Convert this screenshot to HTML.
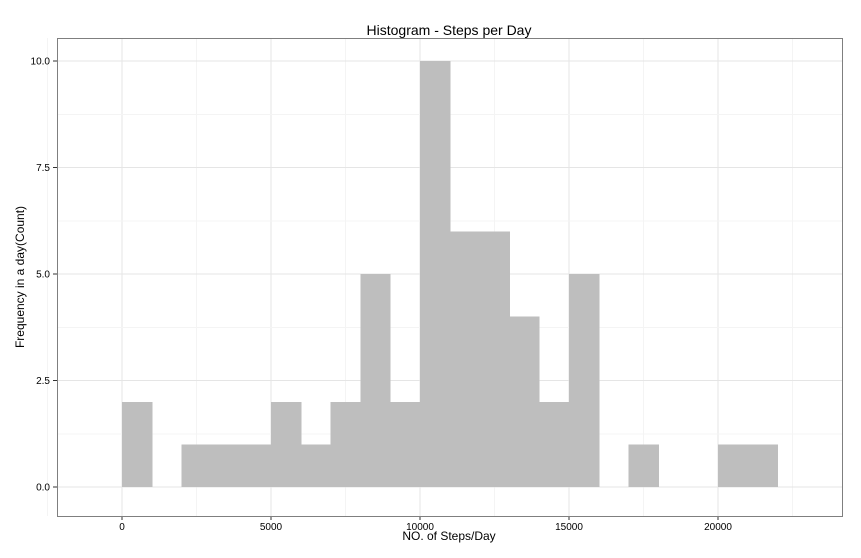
<!DOCTYPE html>
<html><head><meta charset="utf-8"><style>
body{margin:0;background:#fff;font-family:"Liberation Sans",sans-serif;}
</style></head><body>
<svg id="c" width="861" height="553" xmlns="http://www.w3.org/2000/svg">
<text x="449" y="35" text-anchor="middle" font-size="14">Histogram - Steps per Day</text>
<text x="449" y="540" text-anchor="middle" font-size="12">NO. of Steps/Day</text>
<text transform="translate(24,277) rotate(-90)" text-anchor="middle" font-size="12">Frequency in a day(Count)</text>
<g id="grid" shape-rendering="crispEdges"></g><g id="bars" shape-rendering="crispEdges"></g><g id="axes"></g>
<rect x="57.5" y="38.5" width="785" height="478" fill="none" stroke="#7f7f7f"/>
</svg>
<script>
const binStarts=[0,1000,2000,3000,4000,5000,6000,7000,8000,9000,10000,11000,12000,13000,14000,15000,16000,17000,18000,19000,20000,21000];
const counts=[2,0,1,1,1,2,1,2,5,2,10,6,6,4,2,5,0,1,0,0,1,1];
const binWidth=1000;
const xTicks=[0,5000,10000,15000,20000];
const yTicks=[0,2.5,5,7.5,10];
const yLabels=["0.0","2.5","5.0","7.5","10.0"];
const NS="http://www.w3.org/2000/svg";
const x=v=>122+v*(149/5000);
const y=v=>487-v*42.6;
function mk(t,a,p){const e=document.createElementNS(NS,t);for(const k in a)e.setAttribute(k,a[k]);p.appendChild(e);return e;}
const g=document.getElementById('grid'),b=document.getElementById('bars'),ax=document.getElementById('axes');
for(let i=0;i<xTicks.length;i++){
  const l=mk('line',{x1:x(xTicks[i]),x2:x(xTicks[i]),y1:38,y2:516,stroke:'#e5e5e5','stroke-width':1},g);
  
  
  const m=mk('line',{x1:x(xTicks[i]+2500),x2:x(xTicks[i]+2500),y1:38,y2:516,stroke:'#f4f4f4','stroke-width':1},g);
  
  
  const tk=mk('line',{x1:x(xTicks[i]),x2:x(xTicks[i]),y1:516,y2:520,stroke:'#333'},ax);
  
  
  const t=mk('text',{x:x(xTicks[i]),y:530,'text-anchor':'middle','font-size':10},ax);t.textContent=xTicks[i];
  
  
}
const m0=mk('line',{x1:x(-2500),x2:x(-2500),y1:38,y2:516,stroke:'#f4f4f4'},g);


for(let i=0;i<yTicks.length;i++){
  const l=mk('line',{x1:57,x2:842,y1:y(yTicks[i]),y2:y(yTicks[i]),stroke:'#e5e5e5'},g);
  
  
  if(i<yTicks.length-1){const m=mk('line',{x1:57,x2:842,y1:y(yTicks[i]+1.25),y2:y(yTicks[i]+1.25),stroke:'#f4f4f4'},g);
  
  }
  const tk=mk('line',{x1:53,x2:57,y1:y(yTicks[i]),y2:y(yTicks[i]),stroke:'#333'},ax);
  
  
  const t=mk('text',{x:50,y:y(yTicks[i])+3.5,'text-anchor':'end','font-size':10},ax);t.textContent=yLabels[i];
  
  
}
for(let i=0;i<counts.length;i++){
  if(!counts[i])continue;
  const r=mk('rect',{x:x(binStarts[i]),y:y(counts[i]),width:x(binStarts[i]+binWidth)-x(binStarts[i])+0.5,height:y(0)-y(counts[i]),fill:'#bebebe'},b);
  
  
}
</script>
</body></html>
